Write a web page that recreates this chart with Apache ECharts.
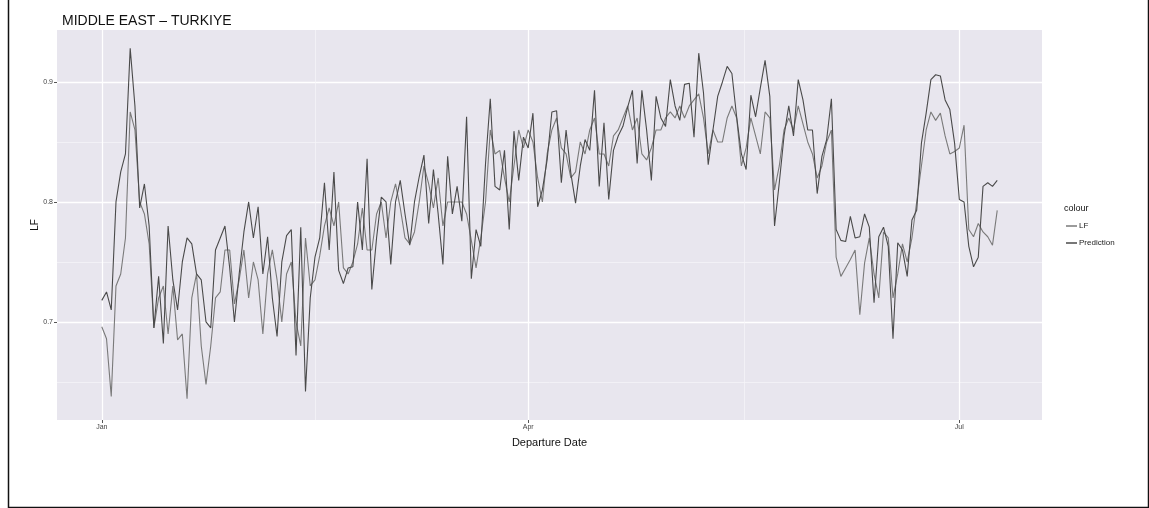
<!DOCTYPE html>
<html><head><meta charset="utf-8">
<script src="https://cdn.jsdelivr.net/npm/echarts@6/dist/echarts.min.js"></script>
<style>html,body{margin:0;padding:0;background:#fff}#c{width:1149px;height:508px}</style>
</head><body><div id="c"></div>
<script>
// Day offsets from 1 Jan (x categories), daily values
const startDate = '2023-01-01';
const xTickDays = [0, 90, 181];
const xTickLabels = ['Jan', 'Apr', 'Jul'];
const xMinorDays = [45, 135.5];
const yTicks = [0.7, 0.8, 0.9];
const yMinor = [0.65, 0.75, 0.85];

const lfValues = [
0.696,0.686,0.638,0.73,0.74,0.77,0.875,0.86,0.80,0.79,
0.765,0.695,0.72,0.73,0.69,0.73,0.685,0.69,0.636,0.72,
0.74,0.68,0.648,0.68,0.72,0.725,0.76,0.76,0.715,0.735,
0.76,0.72,0.75,0.735,0.69,0.74,0.76,0.735,0.70,0.74,
0.75,0.70,0.68,0.77,0.73,0.735,0.755,0.78,0.795,0.78,
0.80,0.745,0.74,0.75,0.765,0.795,0.76,0.76,0.79,0.80,
0.77,0.80,0.815,0.795,0.77,0.765,0.775,0.80,0.83,0.815,
0.795,0.82,0.78,0.80,0.80,0.80,0.80,0.79,0.768,0.745,
0.77,0.80,0.86,0.84,0.843,0.82,0.80,0.83,0.86,0.845,
0.86,0.85,0.82,0.80,0.84,0.86,0.87,0.845,0.84,0.82,
0.825,0.85,0.84,0.86,0.87,0.84,0.84,0.83,0.855,0.86,
0.87,0.88,0.86,0.87,0.84,0.835,0.845,0.86,0.86,0.87,
0.875,0.87,0.88,0.87,0.88,0.885,0.89,0.87,0.84,0.86,
0.85,0.85,0.87,0.88,0.87,0.83,0.845,0.87,0.855,0.84,
0.875,0.87,0.81,0.83,0.86,0.87,0.86,0.88,0.865,0.85,
0.84,0.82,0.83,0.85,0.86,0.754,0.738,0.745,0.752,0.76,
0.706,0.749,0.77,0.74,0.72,0.775,0.77,0.72,0.74,0.765,
0.75,0.77,0.80,0.83,0.86,0.875,0.868,0.874,0.855,0.84,
0.842,0.845,0.864,0.777,0.771,0.782,0.775,0.771,0.764,0.793
];

const predictionValues = [
0.718,0.725,0.71,0.80,0.825,0.84,0.928,0.88,0.795,0.815,
0.78,0.695,0.738,0.682,0.78,0.735,0.71,0.75,0.77,0.765,
0.74,0.735,0.70,0.695,0.76,0.77,0.78,0.745,0.70,0.74,
0.775,0.80,0.77,0.796,0.74,0.771,0.72,0.688,0.75,0.772,
0.777,0.672,0.779,0.642,0.72,0.754,0.77,0.816,0.76,0.825,
0.743,0.732,0.745,0.746,0.80,0.76,0.836,0.727,0.77,0.804,
0.80,0.748,0.80,0.818,0.79,0.764,0.80,0.821,0.839,0.782,
0.827,0.79,0.748,0.838,0.79,0.813,0.784,0.871,0.736,0.777,
0.763,0.832,0.886,0.813,0.81,0.843,0.777,0.859,0.818,0.854,
0.845,0.874,0.796,0.81,0.835,0.875,0.876,0.816,0.86,0.824,
0.799,0.83,0.852,0.843,0.893,0.813,0.866,0.802,0.843,0.855,
0.863,0.879,0.893,0.832,0.893,0.86,0.818,0.888,0.87,0.863,
0.902,0.88,0.868,0.898,0.899,0.854,0.924,0.891,0.831,0.86,
0.888,0.90,0.913,0.907,0.871,0.84,0.827,0.889,0.871,0.895,
0.918,0.888,0.78,0.816,0.855,0.88,0.855,0.902,0.885,0.86,
0.86,0.807,0.838,0.852,0.886,0.777,0.768,0.767,0.788,0.77,
0.771,0.79,0.779,0.716,0.771,0.779,0.763,0.686,0.766,0.76,
0.738,0.785,0.793,0.849,0.874,0.902,0.906,0.905,0.885,0.877,
0.849,0.802,0.80,0.763,0.746,0.754,0.813,0.816,0.813,0.818
];

const nDays = lfValues.length;
const span = nDays - 1;
const xMin = -0.05 * span, xMax = span * 1.05;
const yMin = 0.6183, yMax = 0.9433;

const toPairs = arr => arr.map((v, i) => [i, v]);
const font = 'Liberation Sans, Arial, sans-serif';

const chart = echarts.init(document.getElementById('c'), null, {renderer: 'canvas'});
chart.setOption({
  animation: false,
  backgroundColor: '#ffffff',
  title: [{
    text: 'MIDDLE EAST \u2013 TURKIYE', left: 57, top: 9,
    textStyle: {fontSize: 14, fontWeight: 'normal', color: '#111', fontFamily: font}
  }, {
    text: 'colour', left: 1059, top: 199,
    textStyle: {fontSize: 9, fontWeight: 'normal', color: '#111', fontFamily: font}
  }],
  legend: {
    data: ['LF', 'Prediction'], orient: 'vertical', left: 1061, top: 217,
    icon: 'rect', itemWidth: 11, itemHeight: 1.5, itemGap: 9,
    textStyle: {fontSize: 8, color: '#222', fontFamily: font, padding: [0,0,0,-3]}
  },
  grid: {left: 57, right: 107, top: 30, bottom: 88, show: true, backgroundColor: '#e8e6ee', borderWidth: 0},
  xAxis: [{
    type: 'value', min: xMin, max: xMax,
    name: 'Departure Date', nameLocation: 'middle', nameGap: 17,
    nameTextStyle: {fontSize: 11, color: '#111', fontFamily: font},
    axisLine: {show: false, onZero: false},
    axisTick: {show: true, length: 3, lineStyle: {color: '#555'}, customValues: xTickDays},
    axisLabel: {show: true, customValues: xTickDays, fontSize: 7, color: '#444', margin: 4, fontFamily: font,
      formatter: v => xTickLabels[xTickDays.indexOf(Math.round(v))] || ''},
    splitLine: {show: true, lineStyle: {color: '#ffffff', width: 1.3}}
  }, {
    type: 'value', min: xMin, max: xMax, position: 'bottom',
    axisLine: {show: false, onZero: false},
    axisTick: {show: false, customValues: xMinorDays},
    axisLabel: {show: false, customValues: xMinorDays},
    splitLine: {show: true, lineStyle: {color: '#f6f5f9', width: 0.7}}
  }],
  yAxis: [{
    type: 'value', min: yMin, max: yMax,
    name: 'LF', nameLocation: 'middle', nameGap: 17, nameRotate: 90, nameMoveOverlap: false,
    nameTextStyle: {fontSize: 10, color: '#111', fontFamily: font},
    axisLine: {show: false, onZero: false},
    axisTick: {show: true, length: 3, lineStyle: {color: '#555'}, customValues: yTicks},
    axisLabel: {show: true, customValues: yTicks, fontSize: 7, color: '#444', margin: 4, fontFamily: font,
      formatter: v => v.toFixed(1)},
    splitLine: {show: true, lineStyle: {color: '#ffffff', width: 1.3}}
  }, {
    type: 'value', min: yMin, max: yMax,
    axisLine: {show: false, onZero: false},
    axisTick: {show: false, customValues: yMinor},
    axisLabel: {show: false, customValues: yMinor},
    splitLine: {show: true, lineStyle: {color: '#f6f5f9', width: 0.7}}
  }],
  series: [{
    name: 'LF', type: 'line', data: toPairs(lfValues), showSymbol: false,
    lineStyle: {color: '#7a7a7a', width: 1.1}, itemStyle: {color: '#7a7a7a'}, z: 3
  }, {
    name: 'Prediction', type: 'line', data: toPairs(predictionValues), showSymbol: false,
    lineStyle: {color: '#4a4a4a', width: 1.1}, itemStyle: {color: '#4a4a4a'}, z: 4
  }],
  graphic: [{
    type: 'rect', left: 6, top: -10, silent: true, z: 100,
    shape: {x: 0, y: 0, width: 1140, height: 515},
    style: {fill: 'none', stroke: '#111', lineWidth: 1.5}
  }]
});
</script></body></html>
